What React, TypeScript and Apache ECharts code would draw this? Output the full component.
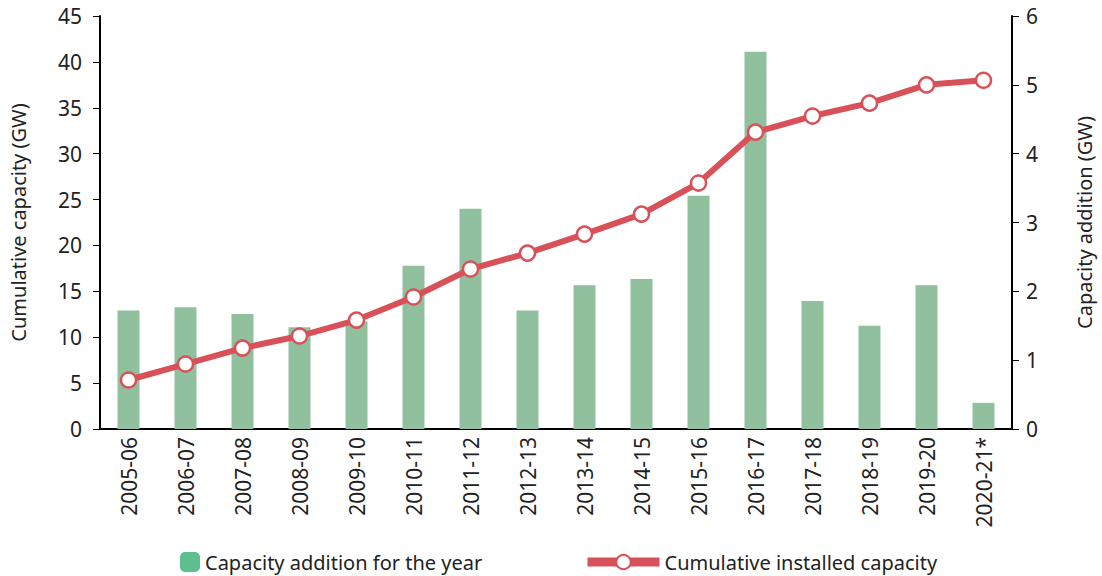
import React, { useEffect, useRef } from "react";
import * as echarts from "echarts";

const categories = ["2005-06","2006-07","2007-08","2008-09","2009-10","2010-11","2011-12","2012-13","2013-14","2014-15","2015-16","2016-17","2017-18","2018-19","2019-20","2020-21*"];
const additions = [1.72, 1.77, 1.67, 1.48, 1.56, 2.37, 3.2, 1.72, 2.09, 2.18, 3.39, 5.48, 1.86, 1.5, 2.09, 0.38];
const cumulative = [5.34, 7.08, 8.82, 10.13, 11.87, 14.38, 17.43, 19.17, 21.24, 23.42, 26.8, 32.35, 34.1, 35.5, 37.5, 38.0];

const FONT = "Noto Sans";

export default function App() {
  const ref = useRef<HTMLDivElement>(null);
  useEffect(() => {
    const chart = echarts.init(ref.current!, null, { renderer: "svg" });
    chart.setOption({
      animation: false,
      textStyle: { fontFamily: FONT, color: "#222" },
      grid: { left: 96, right: 88, top: 16, bottom: 147 },
      legend: [
        {
          left: 175, top: 547,
          itemWidth: 20, itemHeight: 20,
          textStyle: { fontSize: 20, color: "#222", fontFamily: FONT },
          data: [{ name: "Capacity addition for the year", itemStyle: { color: "#5dbf8f" } }],
        },
        {
          left: 578, top: 547,
          itemWidth: 72, itemHeight: 18,
          textStyle: { fontSize: 20, color: "#222", fontFamily: FONT },
          data: [{ name: "Cumulative installed capacity", lineStyle: { width: 9, color: "#d95158" } }],
        },
      ],
      xAxis: {
        type: "category",
        data: categories,
        axisLine: { lineStyle: { color: "#000", width: 2 } },
        axisTick: { show: false },
        axisLabel: { rotate: 90, fontSize: 21, color: "#222", margin: 8 },
      },
      yAxis: [
        {
          type: "value", min: 0, max: 45, interval: 5,
          name: "Cumulative capacity (GW)", nameLocation: "middle", nameGap: 72,
          nameTextStyle: { fontSize: 20, color: "#222" },
          axisLine: { show: true, lineStyle: { color: "#000", width: 2 } },
          axisTick: { show: true, length: 7, lineStyle: { color: "#000" } },
          axisLabel: { fontSize: 21, color: "#222", margin: 18 },
          splitLine: { show: false },
        },
        {
          type: "value", min: 0, max: 6, interval: 1, position: "right",
          name: "Capacity addition (GW)", nameLocation: "middle", nameGap: 62,
          nameTextStyle: { fontSize: 20, color: "#222" },
          axisLine: { show: true, lineStyle: { color: "#000", width: 2 } },
          axisTick: { show: true, length: 7, lineStyle: { color: "#000" } },
          axisLabel: { fontSize: 21, color: "#222", margin: 14 },
          splitLine: { show: false },
        },
      ],
      series: [
        {
          name: "Capacity addition for the year",
          type: "bar",
          yAxisIndex: 1,
          data: additions,
          barWidth: 22,
          itemStyle: { color: "#90c09d" },
        },
        {
          name: "Cumulative installed capacity",
          type: "line",
          yAxisIndex: 0,
          data: cumulative,
          symbol: "circle",
          symbolSize: 15,
          lineStyle: { color: "#d95158", width: 6 },
          itemStyle: { color: "#fff", borderColor: "#d95158", borderWidth: 2.5 },
          z: 3,
        },
      ],
    });
    return () => chart.dispose();
  }, []);
  return <div ref={ref} style={{ width: 1102, height: 576, position: "absolute", left: 0, top: 0 }} />;
}
